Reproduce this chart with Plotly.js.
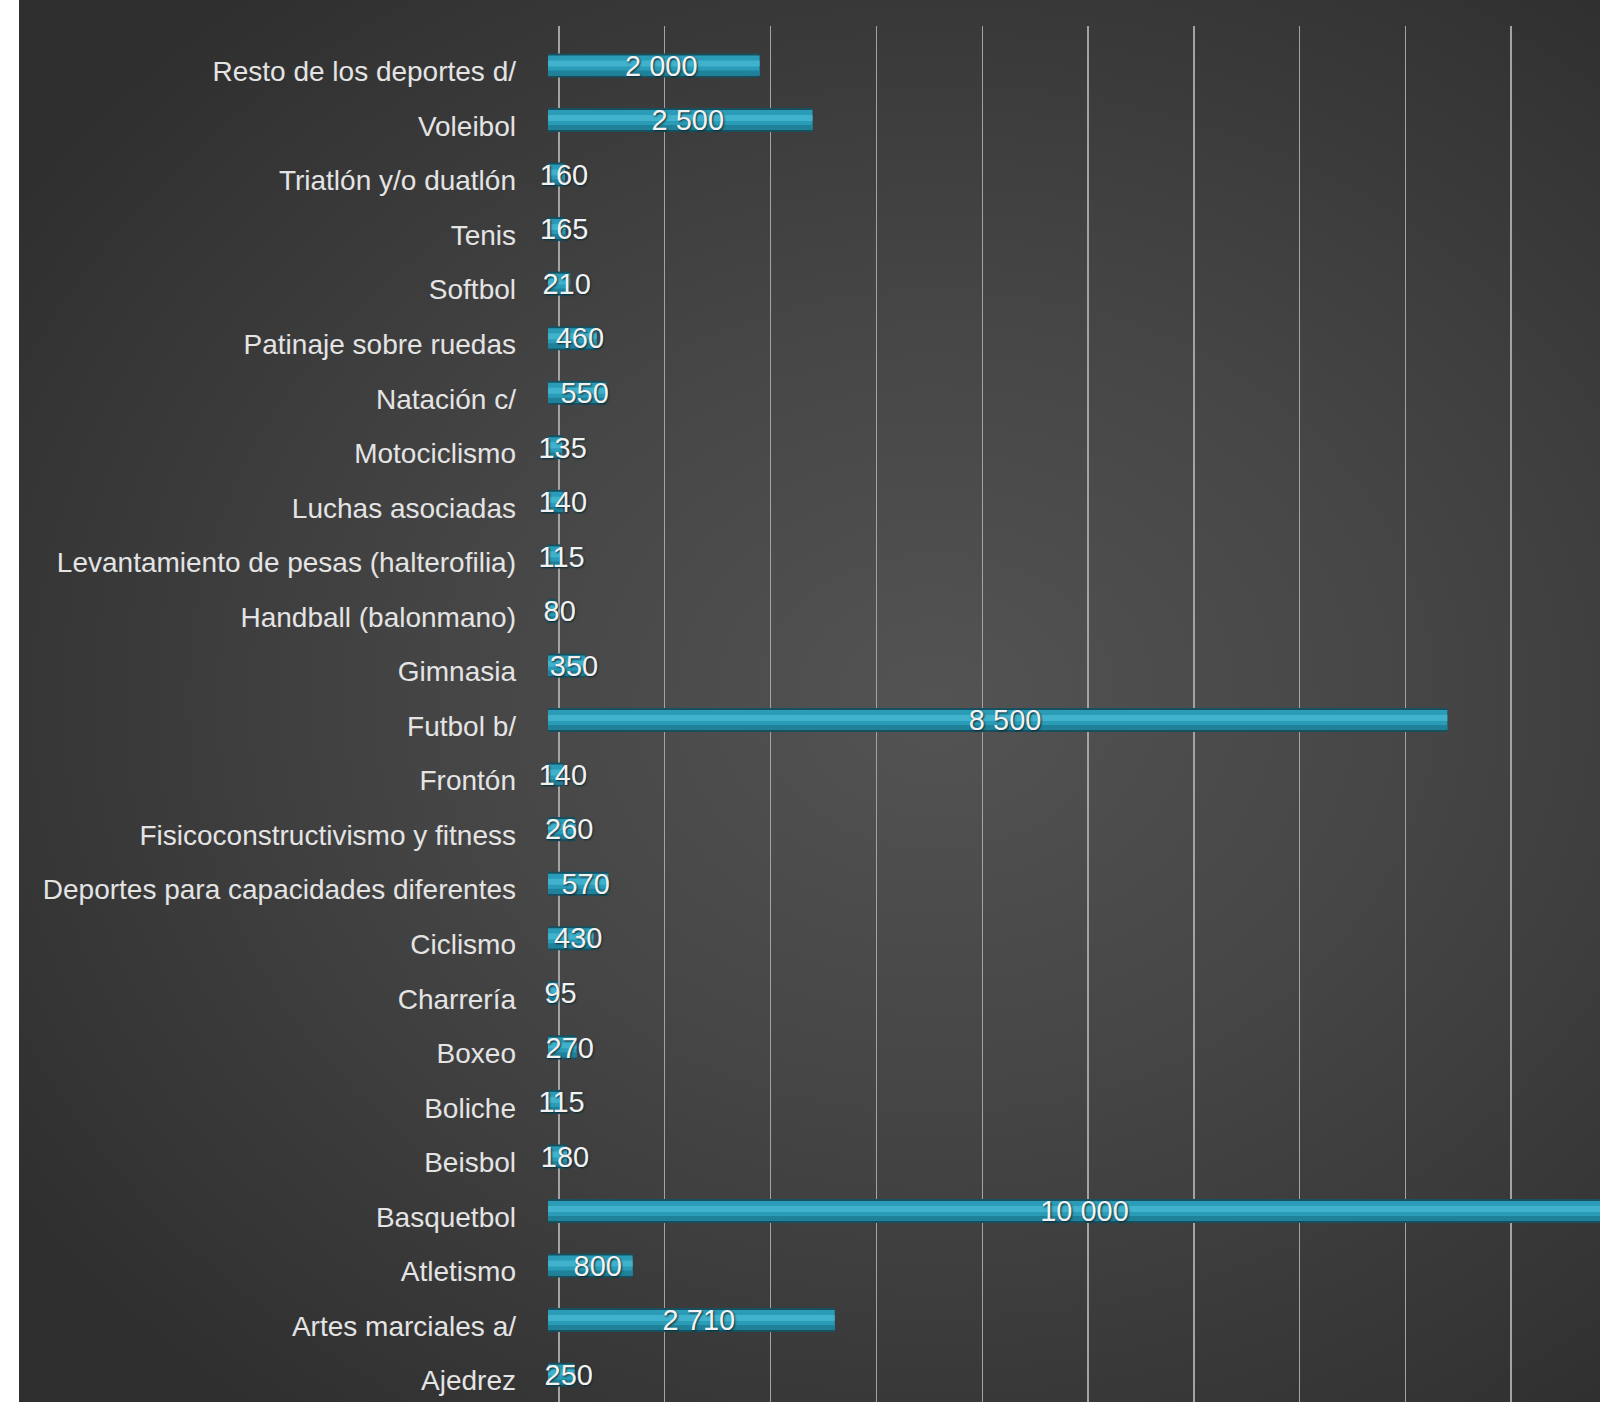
<!DOCTYPE html>
<html>
<head>
<meta charset="utf-8">
<script src="https://cdn.plot.ly/plotly-3.0.1.min.js"></script>
<style>
  html, body { margin: 0; padding: 0; background: #ffffff; }
  #wrap { position: absolute; left: 19px; top: 0; width: 1581px; height: 1402px;
    background: radial-gradient(ellipse 70% 65% at 58% 50%, #535353 0%, #454545 45%, #373737 80%, #2f2f2f 100%); }
  #chart { width: 1581px; height: 1402px; }
</style>
</head>
<body>
<div id="wrap"><div id="chart"></div></div>
<script>
// Categories, bottom to top
const categories = [
  "Ajedrez", "Artes marciales a/", "Atletismo", "Basquetbol", "Beisbol", "Boliche",
  "Boxeo", "Charrería", "Ciclismo", "Deportes para capacidades diferentes",
  "Fisicoconstructivismo y fitness", "Frontón", "Futbol b/", "Gimnasia",
  "Handball (balonmano)", "Levantamiento de pesas (halterofilia)", "Luchas asociadas",
  "Motociclismo", "Natación c/", "Patinaje sobre ruedas", "Softbol", "Tenis",
  "Triatlón y/o duatlón", "Voleibol", "Resto de los deportes d/"
];
const values = [
  250, 2710, 800, 10000, 180, 115,
  270, 95, 430, 570,
  260, 140, 8500, 350,
  80, 115, 140,
  135, 550, 460, 210, 165,
  160, 2500, 2000
];

const catPx = 54.55;          // pixels per category
const yLo = -0.392, yHi = 24.832;
const barW = 20 / catPx;
const barShift = 6 / catPx;   // 3D bar sits slightly above label
const txtShift = 3 / catPx;
const pxPerUnit = 105.8 / 1000;
const xMax = 1052 / pxPerUnit;
const gridShift = 11 / pxPerUnit;
const txtXShift = 7.5 / pxPerUnit;

const fontFam = "'Liberation Sans', Arial, sans-serif";

const traces = [
  { // dark rim
    type: 'bar', orientation: 'h', x: values, y: categories,
    width: barW + 4 / catPx, offset: -(barW + 4 / catPx) / 2 + barShift,
    marker: { color: '#17505f', line: { width: 0 } },
    hoverinfo: 'skip', showlegend: false
  },
  { // main body
    type: 'bar', orientation: 'h', x: values, y: categories,
    width: barW, offset: -barW / 2 + barShift,
    marker: { color: '#2a9cb8', line: { width: 0 } },
    hoverinfo: 'skip', showlegend: false
  },
  { // lower shade
    type: 'bar', orientation: 'h', x: values, y: categories,
    width: 5 / catPx, offset: -barW / 2 + barShift,
    marker: { color: '#1f819a', line: { width: 0 } },
    hoverinfo: 'skip', showlegend: false
  },
  { // highlight band
    type: 'bar', orientation: 'h', x: values, y: categories,
    width: 6 / catPx, offset: -barW / 2 + barShift + 9 / catPx,
    marker: { color: '#40b2cc', line: { width: 0 } },
    hoverinfo: 'skip', showlegend: false
  },
  { // grid carrier (empty)
    type: 'scatter', x: [], y: [], xaxis: 'x2', yaxis: 'y',
    hoverinfo: 'skip', showlegend: false
  },
  { // data labels
    type: 'scatter', mode: 'text', xaxis: 'x3', yaxis: 'y2',
    x: values.map(v => v / 2), y: categories,
    customdata: values,
    texttemplate: '%{customdata:,.0f}',
    textposition: 'middle center',
    textfont: { family: fontFam, size: 29, color: '#f2f2f2', shadow: '1px 1px 2px #0b2a33' },
    hoverinfo: 'skip', showlegend: false, cliponaxis: false
  }
];

const layout = {
  width: 1581, height: 1402,
  margin: { l: 529, r: 0, t: 26, b: 0, pad: 0 },
  paper_bgcolor: 'rgba(0,0,0,0)', plot_bgcolor: 'rgba(0,0,0,0)',
  separators: '. ',
  barmode: 'overlay',
  showlegend: false,
  xaxis: { range: [0, xMax], showgrid: false, zeroline: false, showticklabels: false, ticks: '' },
  xaxis2: { overlaying: 'x', range: [-gridShift, xMax - gridShift], tick0: 0, dtick: 1000,
            showgrid: true, gridcolor: '#a3a3a3', gridwidth: 1.4, zeroline: false,
            showticklabels: false, ticks: '' },
  xaxis3: { overlaying: 'x', range: [-txtXShift, xMax - txtXShift], showgrid: false,
            zeroline: false, showticklabels: false, ticks: '' },
  yaxis: { type: 'category', categoryorder: 'array', categoryarray: categories,
           range: [yLo, yHi], showgrid: false, zeroline: false, ticks: '',
           ticklabelstandoff: 31, showline: false,
           tickfont: { family: fontFam, size: 28, color: '#e4e4e4' } },
  yaxis2: { type: 'category', categoryorder: 'array', categoryarray: categories,
            overlaying: 'y', range: [yLo - txtShift, yHi - txtShift],
            showgrid: false, zeroline: false, showticklabels: false, ticks: '' }
};

Plotly.newPlot('chart', traces, layout, { staticPlot: true, displayModeBar: false });
</script>
</body>
</html>
